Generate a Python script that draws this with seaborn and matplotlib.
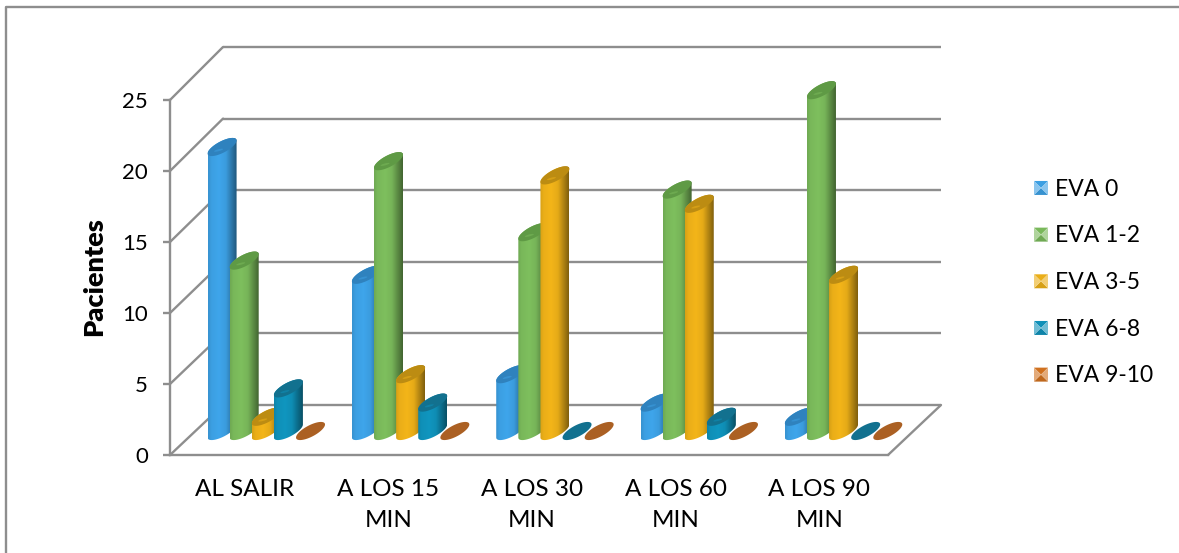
import numpy as np
import pandas as pd
import matplotlib
matplotlib.use("Agg")
import matplotlib.pyplot as plt
import seaborn as sns
from matplotlib.colors import to_rgb
from matplotlib.legend_handler import HandlerBase
from matplotlib.patches import Patch, Polygon
from matplotlib.transforms import Affine2D, IdentityTransform

periods = ["AL SALIR", "A LOS 15\nMIN", "A LOS 30\nMIN", "A LOS 60\nMIN", "A LOS 90\nMIN"]
eva_0 = [20, 11, 4, 2, 1]
eva_1_2 = [12, 19, 14, 17, 24]
eva_3_5 = [1, 4, 18, 16, 11]
eva_6_8 = [3, 2, 0, 1, 0]
eva_9_10 = [0, 0, 0, 0, 0]
series_names = ["EVA 0", "EVA 1-2", "EVA 3-5", "EVA 6-8", "EVA 9-10"]
series_values = [eva_0, eva_1_2, eva_3_5, eva_6_8, eva_9_10]
body_colors = ["#3C9FE2", "#79B85A", "#EAAE18", "#0F90B8", "#D0711F"]
top_colors = ["#2F82BE", "#5F9A45", "#BC8C12", "#12718F", "#AB6023"]
y_ticks = [0, 5, 10, 15, 20, 25]

W, H = 1179, 553
sns.set_theme(style="white")
plt.rcParams["font.family"] = ["Lato", "DejaVu Sans"]
GRAY = "#8E8E8E"

fig = plt.figure(figsize=(W / 100, H / 100), dpi=100, facecolor="white")
ax = fig.add_axes([170 / W, (H - 455) / H, 718 / W, 355 / H])
ax.patch.set_alpha(0)

df = pd.DataFrame({n: v for n, v in zip(series_names, series_values)}, index=periods)
long = df.rename_axis("periodo").reset_index().melt("periodo", var_name="eva", value_name="pacientes")
sns.barplot(data=long, x="periodo", y="pacientes", hue="eva", palette=body_colors,
            width=0.766, gap=0, saturation=1, legend=False, ax=ax)
ax.set_xlim(-0.5, 4.5)
ax.set_ylim(0, 25)
ax.set_yticks(y_ticks)

# chart frame (only top and left visible in the crop)
fig.add_artist(plt.Line2D([5.5 / W, 5.5 / W, 1], [0, 1 - 6.5 / H, 1 - 6.5 / H],
                          color=GRAY, lw=1.7, transform=fig.transFigure))

# pseudo-3D walls
back_tf = ax.transData + Affine2D().translate(53, 50)
STRETCH = 358 / 355
for v in y_ticks:
    ax.plot([-0.5, 4.5], [v * STRETCH] * 2, color=GRAY, lw=1.7, transform=back_tf,
            clip_on=False, zorder=1, solid_capstyle="butt")
    p0 = ax.transData.transform((-0.5, v))
    p1 = back_tf.transform((-0.5, v * STRETCH))
    ax.plot([p0[0], p1[0]], [p0[1], p1[1]], color=GRAY, lw=1.7,
            transform=IdentityTransform(), clip_on=False, zorder=1)
p0 = ax.transData.transform((4.5, 0))
p1 = back_tf.transform((4.5, 0))
ax.plot([p0[0], p1[0]], [p0[1], p1[1]], color=GRAY, lw=1.7,
        transform=IdentityTransform(), clip_on=False, zorder=1)

# cylinders: seaborn bars give position and height, shape drawn in mid-depth plane
bar_tf = ax.transData + Affine2D().translate(24.5, 24)
px_x = 718 / 5
px_y = 355 / 25
A, SLOPE, B = 14.5, 0.45, 6.3
tt = np.linspace(0, 2 * np.pi, 90)


def ring(cx, v, a=A, s=SLOPE, b=B, t=tt):
    dx = a * np.cos(t)
    dy = s * a * np.cos(t) + b * np.sin(t)
    return np.column_stack([cx + dx / px_x, v + dy / px_y])


def shade(color):
    c = np.array(to_rgb(color))
    xs = np.linspace(0, 1, 64)
    f = np.interp(xs, [0, 0.12, 0.38, 0.62, 0.85, 1.0], [0.92, 1.0, 1.04, 0.98, 0.72, 0.55])
    return np.clip(c[None, :] * f[:, None], 0, 1)[None, :, :]


for i, container in enumerate(ax.containers):
    for rect in container:
        cx = (rect.get_x() + rect.get_width() / 2) * 1.005
        v = rect.get_height()
        rect.set_visible(False)
        z = 3 + i
        if v > 0:
            lower = ring(cx, 0, t=np.linspace(np.pi, 2 * np.pi, 40))
            upper = ring(cx, v, t=np.linspace(0, np.pi, 40))
            body = Polygon(np.vstack([lower, upper]), closed=True, facecolor="none",
                           edgecolor="none", transform=bar_tf, clip_on=False, zorder=z)
            ax.add_patch(body)
            x0, x1 = cx - A / px_x, cx + A / px_x
            im = ax.imshow(shade(body_colors[i]), extent=[x0, x1, -2, v + 2], aspect="auto",
                           interpolation="bilinear", zorder=z, transform=bar_tf)
            im.set_clip_box(fig.bbox)
            im.set_clip_path(body)
        ax.add_patch(Polygon(ring(cx, v), closed=True, facecolor=top_colors[i], edgecolor="none",
                             transform=bar_tf, clip_on=False, zorder=z + 0.1))
        if v > 0:
            glow = ring(cx - 3.5 / px_x, v - 3.2 / px_y, a=4.5, s=0.25, b=1.0)
            ax.add_patch(Polygon(glow, closed=True, facecolor=body_colors[i], edgecolor="none",
                                 alpha=0.55, transform=bar_tf, clip_on=False, zorder=z + 0.2))
ax.set_xlim(-0.5, 4.5)
ax.set_ylim(0, 25)
ax.set_aspect("auto")

# axes styling
for s in ["top", "right"]:
    ax.spines[s].set_visible(False)
for s in ["left", "bottom"]:
    ax.spines[s].set_color(GRAY)
    ax.spines[s].set_linewidth(1.7)
    ax.spines[s].set_zorder(2)
ax.tick_params(axis="y", left=True, length=5, width=1.7, color=GRAY, pad=11,
               labelsize=16, labelcolor="black")
ax.tick_params(axis="x", bottom=False, pad=11, labelsize=17.5, labelcolor="black")
ax.set_xticks(range(5), periods)
for lab in ax.get_xticklabels():
    lab.set_linespacing(1.6)
    lab.set_transform(lab.get_transform() + Affine2D().translate(3, 0))
ax.set_xlabel("")
ax.set_ylabel("Pacientes", fontsize=19.5, fontweight="heavy", color="black")
ax.yaxis.set_label_coords((106 - 170) / 718, (455 - 277) / 355)


class BowTie(HandlerBase):
    def create_artists(self, legend, orig, xd, yd, w, h, fs, trans):
        base = np.array(to_rgb(orig.get_facecolor()[:3]))
        light = np.clip(base + (1 - base) * 0.4, 0, 1)
        x, y = -xd, -yd
        s = min(w, h)
        c = (x + s / 2, y + s / 2)
        c0 = (x, y); c1 = (x + s, y); c2 = (x + s, y + s); c3 = (x, y + s)
        out = []
        for tri, col in [((c0, c1, c), base * 0.92), ((c2, c3, c), base),
                         ((c1, c2, c), light), ((c3, c0, c), light)]:
            out.append(Polygon(tri, closed=True, facecolor=col, edgecolor="none", transform=trans))
        return out


handles = [Patch(facecolor=c) for c in body_colors]
fig.legend(handles, series_names, handler_map={Patch: BowTie()}, loc="center left",
           bbox_to_anchor=(1034 / W, 1 - 282.5 / H), frameon=False, fontsize=16.5,
           labelspacing=1.12, handlelength=0.61, handleheight=0.61, handletextpad=0.32,
           borderpad=0, borderaxespad=0, labelcolor="black")

fig.savefig("out.png", dpi=100, facecolor="white")
